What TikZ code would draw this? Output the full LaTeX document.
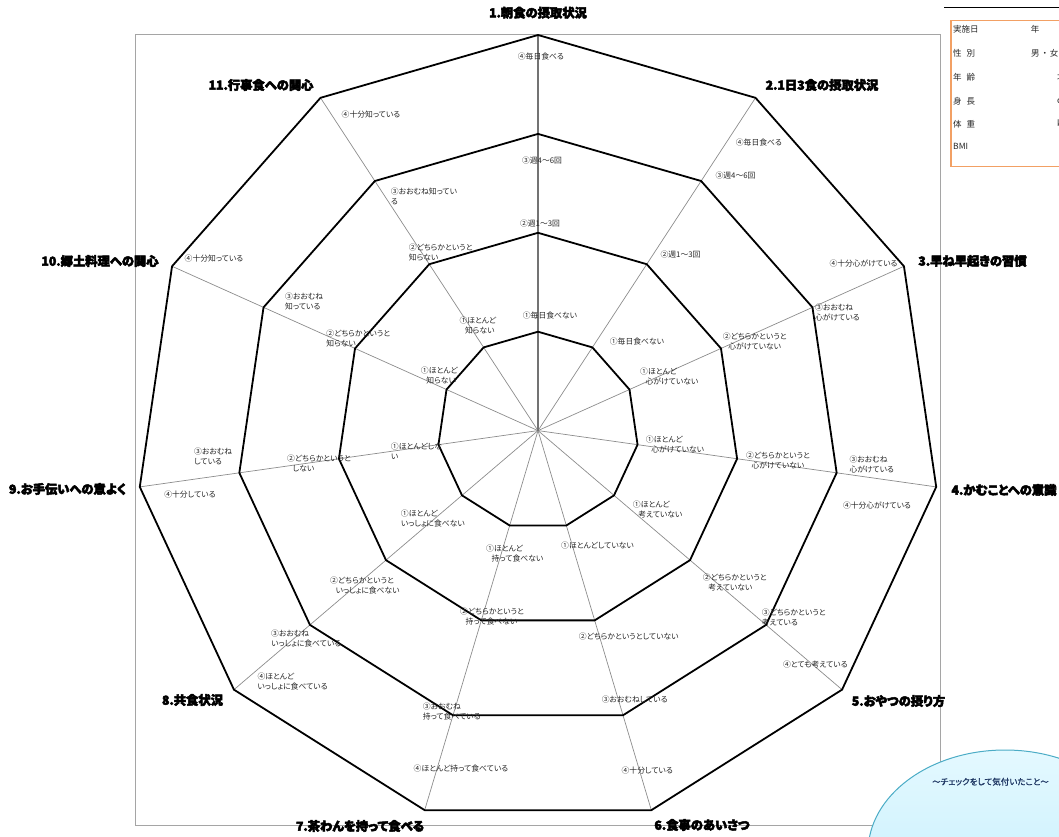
\documentclass[tikz,border=0pt]{standalone}
\usepackage{fontspec}
\newfontfamily\jp{Noto Sans CJK JP}[RawFeature=+palt]
\newfontfamily\jph{Noto Sans CJK JP}[RawFeature=+palt,FakeBold=4]
\newfontfamily\jpb{Noto Sans CJK JP}[RawFeature=+palt,FakeBold=1.2]
\usetikzlibrary{calc}
\definecolor{framegray}{RGB}{165,165,165}
\definecolor{spokegray}{RGB}{140,140,140}
\definecolor{spoketop}{RGB}{115,115,115}
\definecolor{labeltext}{RGB}{38,38,38}
\definecolor{orangebox}{RGB}{242,160,100}
\definecolor{ellborder}{RGB}{75,172,198}
\definecolor{elltop}{RGB}{228,249,255}
\definecolor{ellbot}{RGB}{190,236,252}
\definecolor{navytext}{RGB}{31,56,100}
\begin{document}
\begin{tikzpicture}[x=1pt,y=-1pt,
  lbl/.style={font=\jp\fontsize{7.8}{10}\selectfont, inner sep=0pt, text=labeltext},
  lblm/.style={lbl, align=left, anchor=north west, yshift=3.9pt},
  ttl/.style={font=\jph\bfseries\fontsize{12.3}{14}\selectfont, inner sep=0pt, text=black},
  boxtxt/.style={font=\jp\fontsize{8.5}{10}\selectfont, inner sep=0pt, anchor=west, text=labeltext},
  ring/.style={line width=1.8pt, line join=miter, black},
  spoke/.style={spokegray, line width=0.7pt},
]
\useasboundingbox (0,0) rectangle (1059,837);
\clip (0,0) rectangle (1059,837);

% frame
\draw[framegray, line width=1pt] (135,34.3) rectangle (940.7,825.7);

% geometry
\coordinate (C) at (538,430.6);
\foreach \k in {0,...,10}{
  \foreach \l in {1,...,4}{
    \coordinate (v\l-\k) at ($(C)+({1.017*98.9*\l*cos(-90+\k*360/11)},{98.9*\l*sin(-90+\k*360/11)})$);
  }
}
% spokes
\foreach \k in {1,...,10}{ \draw[spoke] (C) -- (v4-\k); }
\draw[spoketop, line width=1.1pt] (C) -- (v4-0);
% rings
\foreach \l in {1,...,4}{
  \draw[ring] (v\l-0) \foreach \k in {1,...,10}{ -- (v\l-\k) } -- cycle;
}

% titles
\node[ttl] (t1) at (538,12.7) {1.朝食の摂取状況};
\node[ttl] (t2) at (822,85) {2.1日3食の摂取状況};
\node[ttl] (t3) at (972.5,261) {3.早ね早起きの習慣};
\node[ttl] (t4) at (1004,490) {4.かむことへの意識};
\node[ttl] (t5) at (898.5,701) {5.おやつの摂り方};
\node[ttl] (t6) at (702,825) {6.食事のあいさつ};
\node[ttl] (t7) at (360,826) {7.茶わんを持って食べる};
\node[ttl] (t8) at (192.5,700) {8.共食状況};
\node[ttl] (t9) at (67.5,489) {9.お手伝いへの意よく};
\node[ttl] (t10) at (100,261) {10.郷土料理への関心};
\node[ttl] (t11) at (261,85) {11.行事食への関心};

% axis 1
\node[lbl] (a1l4) at (541,56.7) {④毎日食べる};
\node[lbl] (a1l3) at (542,160.7) {③週4～6回};
\node[lbl] (a1l2) at (540,224) {②週1～3回};
\node[lbl] (a1l1) at (550,316) {①毎日食べない};
% axis 2
\node[lbl] (a2l4) at (759,142.5) {④毎日食べる};
\node[lbl] (a2l3) at (735.5,175.5) {③週4～6回};
\node[lbl] (a2l2) at (680.5,255) {②週1～3回};
\node[lbl] (a2l1) at (637,342) {①毎日食べない};
% axis 3
\node[lbl] (a3l4) at (863.5,264) {④十分心がけている};
\node[lblm] (a3l3) at (815,308) {③おおむね\\心がけている};
\node[lblm] (a3l2) at (722.7,336.5) {②どちらかというと\\\hspace*{5.5pt}心がけていない};
\node[lblm] (a3l1) at (640,371.7) {①ほとんど\\\hspace*{5.5pt}心がけていない};
% axis 4
\node[lbl] (a4l4) at (877,506) {④十分心がけている};
\node[lblm] (a4l3) at (849.3,459.3) {③おおむね\\心がけている};
\node[lblm] (a4l2) at (746,456) {②どちらかというと\\\hspace*{5.5pt}心がけていない};
\node[lblm] (a4l1) at (645.7,439.3) {①ほとんど\\\hspace*{5.5pt}心がけていない};
% axis 5
\node[lbl] (a5l4) at (815.3,665) {④とても考えている};
\node[lblm] (a5l3) at (761.7,612.3) {③どちらかというと\\考えている};
\node[lblm] (a5l2) at (702.7,577.3) {②どちらかというと\\\hspace*{5.5pt}考えていない};
\node[lblm] (a5l1) at (632.7,505) {①ほとんど\\\hspace*{5.5pt}考えていない};
% axis 6
\node[lbl] (a6l4) at (647.3,771) {④十分している};
\node[lbl] (a6l3) at (634.7,700) {③おおむねしている};
\node[lbl] (a6l2) at (628.7,636.7) {②どちらかというとしていない};
\node[lbl] (a6l1) at (597.5,545.7) {①ほとんどしていない};
% axis 7
\node[lbl] (a7l4) at (461,769) {④ほとんど持って食べている};
\node[lblm] (a7l3) at (422.7,706.7) {③おおむね\\持って食べている};
\node[lblm] (a7l2) at (460,611.7) {②どちらかというと\\\hspace*{5.5pt}持って食べない};
\node[lblm] (a7l1) at (486,548.3) {①ほとんど\\\hspace*{5.5pt}持って食べない};
% axis 8
\node[lblm] (a8l4) at (257.3,676.7) {④ほとんど\\いっしょに食べている};
\node[lblm] (a8l3) at (271,634) {③おおむね\\いっしょに食べている};
\node[lblm] (a8l2) at (330,580.7) {②どちらかというと\\\hspace*{5.5pt}いっしょに食べない};
\node[lblm] (a8l1) at (400.7,513.7) {①ほとんど\\いっしょに食べない};
% axis 9
\node[lbl] (a9l4) at (190,494.3) {④十分している};
\node[lblm] (a9l3) at (194,451.7) {③おおむね\\している};
\node[lblm] (a9l2) at (287,459) {②どちらかというと\\\hspace*{5.5pt}しない};
\node[lblm] (a9l1) at (390.7,446.7) {①ほとんどしな\\い};
% axis 10
\node[lbl] (a10l4) at (214,258.3) {④十分知っている};
\node[lblm] (a10l3) at (285,296.7) {③おおむね\\知っている};
\node[lblm] (a10l2) at (326.2,333.5) {②どちらかというと\\知らない};
\node[lblm] (a10l1) at (420.7,370.7) {①ほとんど\\\hspace*{5.5pt}知らない};
% axis 11
\node[lbl] (a11l4) at (371,115) {④十分知っている};
\node[lblm] (a11l3) at (390.7,191.7) {③おおむね知ってい\\る};
\node[lblm] (a11l2) at (408.6,248) {②どちらかというと\\知らない};
\node[lblm] (a11l1) at (459.3,320.7) {①ほとんど\\\hspace*{5.5pt}知らない};

% info box
\draw[black, line width=1pt] (944,7.3) -- (1065,7.3);
\draw[orangebox, line width=1.4pt] (951,20.7) rectangle (1075,166.7);
\node[boxtxt] (b1) at (953,29.3) {実施日};
\node[boxtxt] (b2) at (953,53.3) {性\hspace{5pt}別};
\node[boxtxt] (b3) at (953,77.3) {年\hspace{5pt}齢};
\node[boxtxt] (b4) at (953,101) {身\hspace{5pt}長};
\node[boxtxt] (b5) at (953,124) {体\hspace{5pt}重};
\node[boxtxt] (b6) at (953,146.7) {BMI};
\node[boxtxt] (c1) at (1030.7,29.3) {年};
\node[boxtxt] (c2) at (1031,53.3) {男\hspace{3pt}・\hspace{3pt}女};
\node[boxtxt] (c3) at (1057,77.3) {才};
\node[boxtxt] (c4) at (1057,101) {cm};
\node[boxtxt] (c5) at (1057,124) {kg};

% ellipse
\draw[ellborder, line width=1pt, top color=elltop, bottom color=ellbot] (1005,852) ellipse [x radius=137, y radius=102];
\node[font=\jpb\fontsize{8.5}{10}\selectfont, text=navytext, inner sep=0pt] (note) at (990.5,781.7) {～チェックをして気付いたこと～};
\end{tikzpicture}
\end{document}
